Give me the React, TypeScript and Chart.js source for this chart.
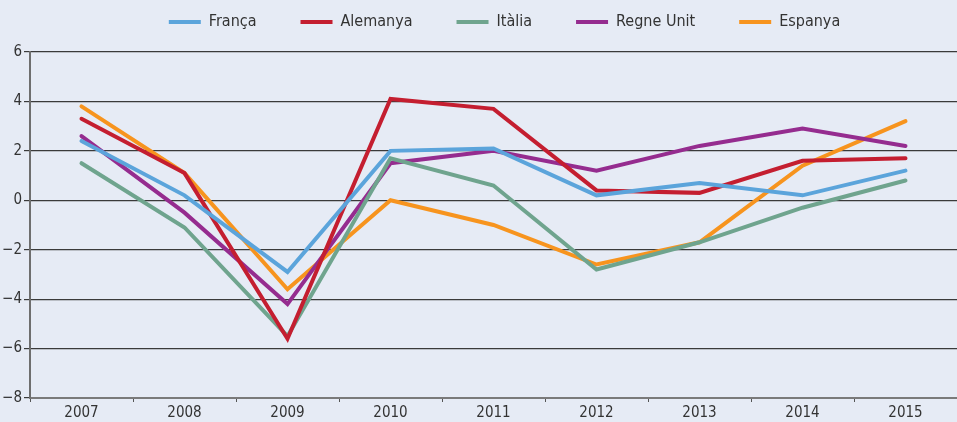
import React, { useEffect, useRef } from "react";
import { Chart, registerables } from "chart.js";

Chart.register(...registerables);

const years = ["2007", "2008", "2009", "2010", "2011", "2012", "2013", "2014", "2015"];
const franca = [2.4, 0.2, -2.9, 2.0, 2.1, 0.2, 0.7, 0.2, 1.2];
const alemanya = [3.3, 1.1, -5.6, 4.1, 3.7, 0.4, 0.3, 1.6, 1.7];
const italia = [1.5, -1.1, -5.5, 1.7, 0.6, -2.8, -1.7, -0.3, 0.8];
const regneUnit = [2.6, -0.5, -4.2, 1.5, 2.0, 1.2, 2.2, 2.9, 2.2];
const espanya = [3.8, 1.1, -3.6, 0.0, -1.0, -2.6, -1.7, 1.4, 3.2];

const FONT = "'Liberation Sans Narrow', 'DejaVu Sans Condensed', 'Liberation Sans', sans-serif";
const BG = "#e6ebf5";
const LEGEND_PAD = 44;
const LEGEND_FONT = 16;

const legendFix = {
  id: "legendFix",
  beforeUpdate(chart: any) {
    const lg = chart.legend;
    if (lg && !lg._patched) {
      const f = lg.fit;
      lg.fit = function () {
        f.call(this);
        this.height = 50;
      };
      lg._patched = true;
    }
  },
  afterLayout(chart: any) {
    const lg = chart.legend;
    if (!lg) return;
    lg.top = 22 - LEGEND_PAD - LEGEND_FONT / 2;
    lg.left += 26;
    lg.right += 26;
  },
};

export default function App() {
  const ref = useRef<HTMLCanvasElement>(null);
  useEffect(() => {
    document.body.style.margin = "0";
    document.body.style.background = BG;
    const mk = (label: string, data: number[], color: string) => ({
      label,
      data,
      borderColor: color,
      backgroundColor: color,
      borderWidth: 4,
      borderCapStyle: "round" as const,
      borderJoinStyle: "miter" as const,
      pointRadius: 0,
      tension: 0,
    });
    const chart = new Chart(ref.current!, {
      type: "line",
      data: {
        labels: years,
        datasets: [
          mk("França", franca, "#5ba4db"),
          mk("Alemanya", alemanya, "#c41e30"),
          mk("Itàlia", italia, "#6fa48e"),
          mk("Regne Unit", regneUnit, "#952c8f"),
          mk("Espanya", espanya, "#f7941e"),
        ],
      },
      plugins: [legendFix],
      options: {
        animation: false,
        responsive: false,
        maintainAspectRatio: false,
        layout: { padding: { left: 0, right: 0, top: 2, bottom: 0 } },
        plugins: {
          tooltip: { enabled: false },
          legend: {
            position: "top",
            labels: {
              boxWidth: 32,
              boxHeight: 4,
              padding: LEGEND_PAD,
              color: "#333",
              font: { family: FONT, size: LEGEND_FONT },
              generateLabels: (c: any) => {
                const items = Chart.defaults.plugins.legend.labels.generateLabels(c);
                return items.map((it: any) => ({ ...it, lineWidth: 0 }));
              },
            },
          },
        },
        scales: {
          x: {
            offset: true,
            grid: {
              offset: true,
              drawOnChartArea: false,
              drawTicks: true,
              tickLength: 4,
              color: "#555",
            },
            border: { color: "#7a7a7a", width: 2 },
            ticks: { color: "#333", font: { family: FONT, size: 15 }, padding: 2, maxRotation: 0 },
            afterFit: (s: any) => { s.height = 24; },
          },
          y: {
            min: -8,
            max: 6,
            grid: { color: "#3a3a3a", lineWidth: 1.2, tickLength: 6, drawTicks: true },
            border: { color: "#6e6e6e", width: 2 },
            ticks: {
              stepSize: 2,
              color: "#333",
              padding: 2,
              font: { family: FONT, size: 15 },
              callback: (v: any) => String(v).replace("-", "\u2212"),
            },
            afterFit: (s: any) => { s.width = 30; },
          },
        },
      },
    });
    return () => chart.destroy();
  }, []);
  return (
    <div style={{ width: 957, height: 422, background: BG }}>
      <canvas ref={ref} width={957} height={422} style={{ display: "block" }} />
    </div>
  );
}
